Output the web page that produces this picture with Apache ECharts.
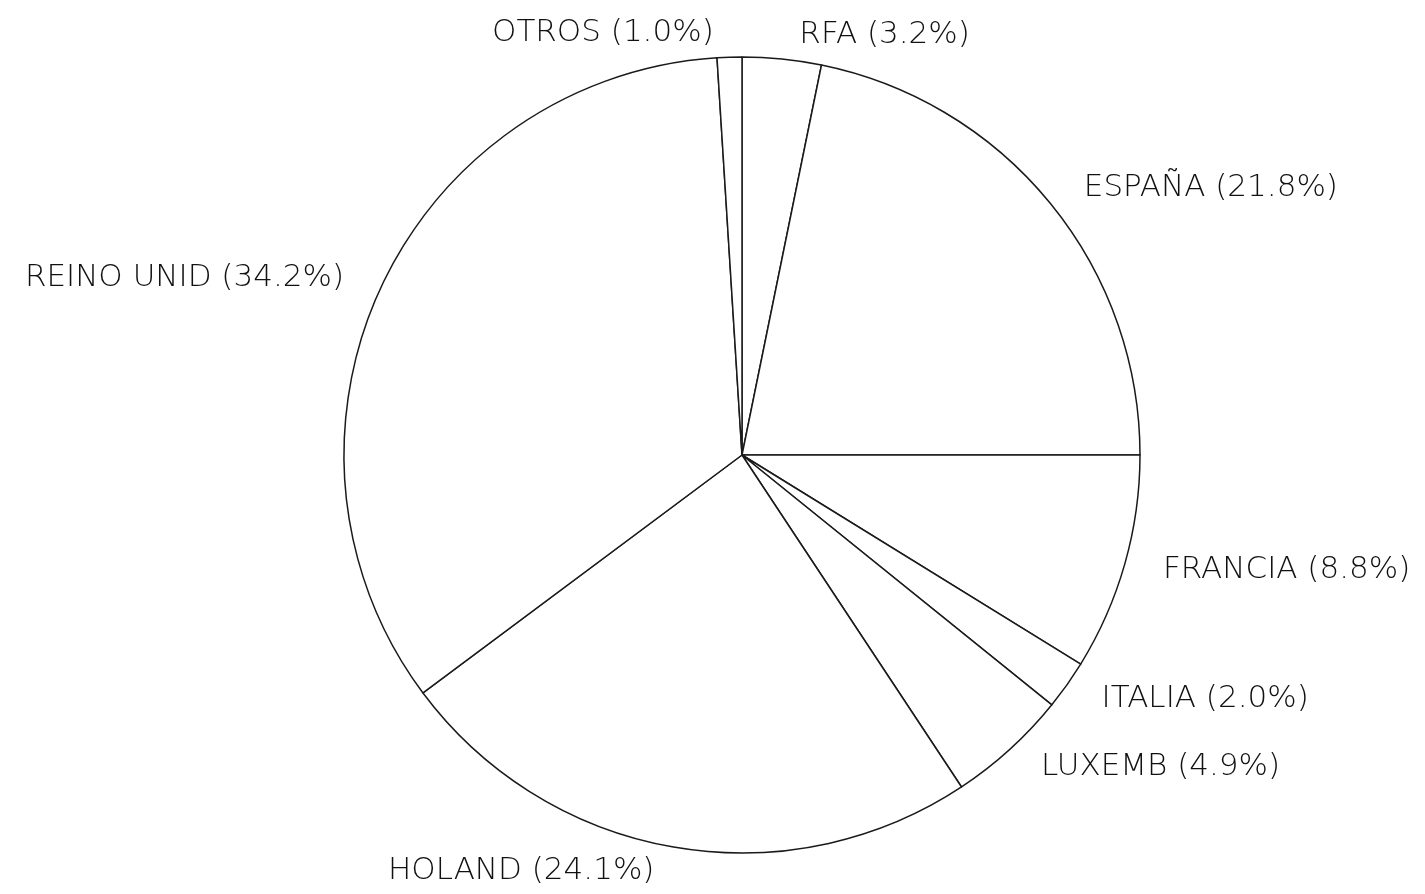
<!DOCTYPE html>
<html>
<head>
<meta charset="utf-8">
<script src="https://cdn.jsdelivr.net/npm/echarts@6/dist/echarts.min.js"></script>
<style>
html,body{margin:0;padding:0;background:#fff;}
#chart{width:1425px;height:894px;}
</style>
</head>
<body>
<div id="chart"></div>
<script>
const categories = ['RFA', 'ESPAÑA', 'FRANCIA', 'ITALIA', 'LUXEMB', 'HOLAND', 'REINO UNID', 'OTROS'];
const values = [3.2, 21.8, 8.8, 2.0, 4.9, 24.1, 34.2, 1.0];

const chart = echarts.init(document.getElementById('chart'), null, {renderer: 'canvas'});
chart.setOption({
  backgroundColor: '#ffffff',
  animation: false,
  series: [{
    type: 'pie',
    center: [742, 455],
    radius: [0, 398],
    startAngle: 90,
    clockwise: true,
    avoidLabelOverlap: false,
    silent: true,
    data: categories.map((c, i) => ({name: c, value: values[i]})),
    itemStyle: {color: '#ffffff', borderColor: '#1a1a1a', borderWidth: 1.5},
    label: {
      show: true,
      position: 'outside',
      formatter: p => p.name + ' (' + p.value.toFixed(1) + '%)',
      fontFamily: 'DejaVu Sans',
      fontWeight: 200,
      fontSize: 31,
      color: '#111'
    },
    labelLine: {show: false, length: 24, length2: 10},
    emphasis: {disabled: true}
  }]
});
</script>
</body>
</html>
